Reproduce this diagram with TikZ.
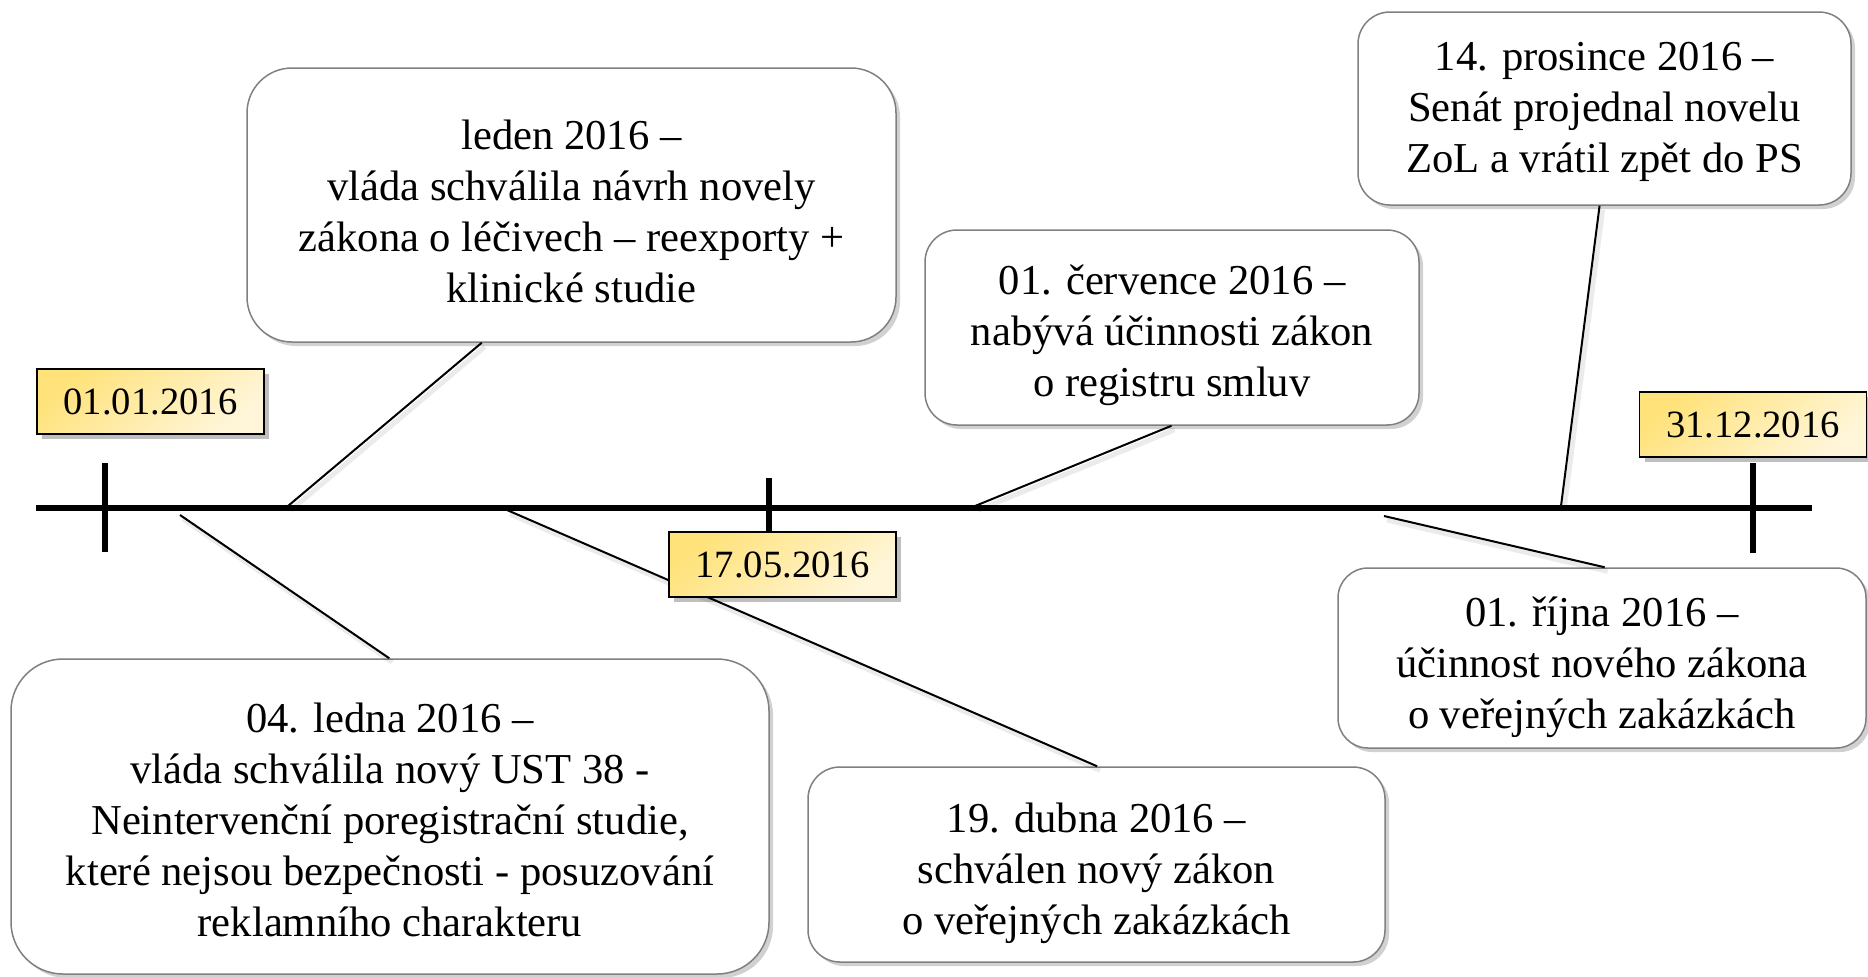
\documentclass[tikz,border=0pt]{standalone}
\usepackage{fontspec}
\setmainfont{Liberation Serif}
\usetikzlibrary{shadows,calc}
\definecolor{boxgray}{HTML}{808080}
\definecolor{ylA}{HTML}{FFE27A}
\definecolor{ylB}{HTML}{FFF6DA}
\tikzset{
  evbox/.style={draw=boxgray, line width=0.75pt, fill=white, rounded corners=#1,
    inner sep=0pt,
    drop shadow={shadow xshift=2pt, shadow yshift=-2pt, opacity=0.18, fill=black}},
  evtext/.style={inner sep=0pt, align=center, font=\fontsize{21.3}{25.5}\selectfont},
  datebox/.style={draw=black, line width=0.9pt, top color=ylA, bottom color=ylB,
    shading angle=40, minimum width=113.5pt, minimum height=32.5pt, inner sep=0pt,
    font=\fontsize{19.3}{22}\selectfont,
    drop shadow={shadow xshift=2.5pt, shadow yshift=-2.5pt, opacity=0.25, fill=black}},
  axisline/.style={line width=2.8pt, black},
  conn/.style={line width=1pt, black},
  connshadow/.style={line width=2.5pt, black, opacity=0.08, transform canvas={shift={(1.5pt,-2pt)}}},
}
\begin{document}
\begin{tikzpicture}[x=0.5pt,y=-0.5pt]
\useasboundingbox (0,0) rectangle (1868,976);

% event boxes
\node[evbox=22.5pt, minimum width=324.5pt, minimum height=137pt] (leden) at (571.5,205) {};
\node[evbox=26pt, minimum width=379pt, minimum height=157.5pt] (ledna) at (390,816.5) {};
\node[evbox=16pt, minimum width=288.5pt, minimum height=97.5pt] (dubna) at (1096.5,864.5) {};
\node[evbox=16pt, minimum width=247pt, minimum height=97.5pt] (cervence) at (1172,327.5) {};
\node[evbox=16pt, minimum width=246.5pt, minimum height=96.5pt] (prosince) at (1604.5,108.5) {};
\node[evbox=15pt, minimum width=264pt, minimum height=90pt] (rijna) at (1602,658) {};

\node[evtext] (tLeden) at ($(leden.center)+(0,6)$)
  {leden 2016 –\\vláda schválila návrh novely\\zákona o léčivech – reexporty +\\klinické studie};
\node[evtext] (tLedna) at ($(ledna.center)+(0,3)$)
  {04. ledna 2016 –\\vláda schválila nový UST 38 -\\Neintervenční poregistrační studie,\\které nejsou bezpečnosti - posuzování\\reklamního charakteru};
\node[evtext] (tDubna) at ($(dubna.center)+(0,9)$)
  {19. dubna 2016 –\\schválen nový zákon\\o veřejných zakázkách};
\node[evtext] (tCerv) at ($(cervence.center)+(0,8)$)
  {01. července 2016 –\\nabývá účinnosti zákon\\o registru smluv};
\node[evtext] (tPros) at ($(prosince.center)+(0,3)$)
  {14. prosince 2016 –\\Senát projednal novelu\\ZoL a vrátil zpět do PS};
\node[evtext] (tRijna) at ($(rijna.center)+(0,9)$)
  {01. října 2016 –\\účinnost nového zákona\\o veřejných zakázkách};

% timeline
\coordinate (tlA) at (36,508);
\coordinate (tlB) at (1812,508);
\draw[axisline] (tlA) -- (tlB);
\coordinate (k1a) at (105,463); \coordinate (k1b) at (105,552);
\coordinate (k2a) at (769,478); \coordinate (k2b) at (769,532);
\coordinate (k3a) at (1753,463); \coordinate (k3b) at (1753,553);
\draw[axisline] (k1a) -- (k1b);
\draw[axisline] (k2a) -- (k2b);
\draw[axisline] (k3a) -- (k3b);

% connector ends on the timeline
\coordinate (cLeden) at (288,506);
\coordinate (cLedna) at (180,515);
\coordinate (cDubna) at (507,510);
\coordinate (cCerv) at (975,506);
\coordinate (cPros) at (1561,506);
\coordinate (cRijna) at (1384,516);

% connector ends on the boxes
\coordinate (eLeden) at ($(leden.south west)!0.362!(leden.south east)$);
\coordinate (eLedna) at ($(ledna.north west)!0.499!(ledna.north east)$);
\coordinate (eDubna) at ($(dubna.north west)!0.501!(dubna.north east)$);
\coordinate (eCerv) at ($(cervence.south west)!0.499!(cervence.south east)$);
\coordinate (ePros) at ($(prosince.south west)!0.49!(prosince.south east)$);
\coordinate (eRijna) at ($(rijna.north west)!0.505!(rijna.north east)$);

\foreach \a/\b in {cLeden/eLeden, cLedna/eLedna, cDubna/eDubna, cCerv/eCerv, cPros/ePros, cRijna/eRijna}{
  \draw[connshadow] (\a) -- (\b);
  \draw[conn] (\a) -- (\b);
}

% date labels
\node[datebox] (d1) at (150.5,401.5) {01.01.2016};
\node[datebox] (d2) at (782.5,564.5) {17.05.2016};
\node[datebox] (d3) at (1753,424.5) {31.12.2016};
\end{tikzpicture}
\end{document}
